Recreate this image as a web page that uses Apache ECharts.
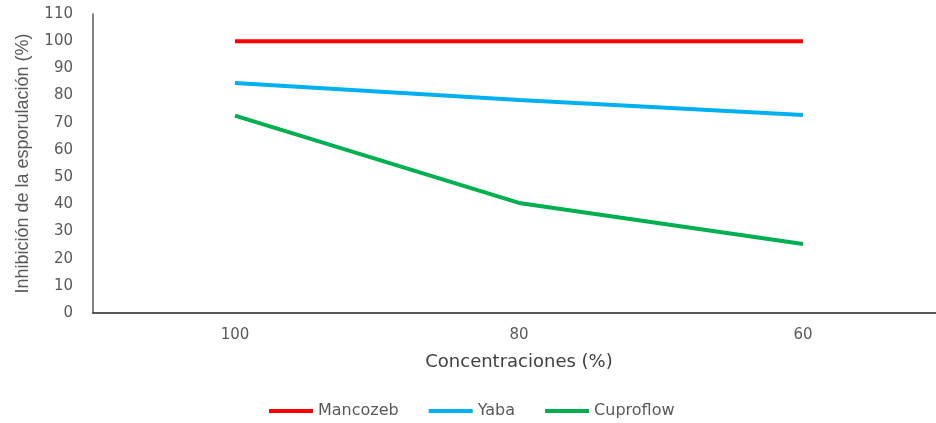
<!DOCTYPE html>
<html>
<head>
<meta charset="utf-8">
<script src="https://cdn.jsdelivr.net/npm/echarts@6/dist/echarts.min.js"></script>
<style>
  html, body { margin: 0; padding: 0; background: #fff; }
  #chart { width: 936px; height: 423px; }
</style>
</head>
<body>
<div id="chart"></div>
<script>
// 数据
const categories = ['100', '80', '60'];
const mancozeb = [100, 100, 100];
const yaba = [84.6, 78.4, 72.8];
const cuproflow = [72.6, 40.5, 25.4];

const chart = echarts.init(document.getElementById('chart'));

const tickFont = 'DejaVu Sans, Verdana, sans-serif';
const nameFont = 'Liberation Sans, Arial, sans-serif';

const option = {
  animation: false,
  backgroundColor: '#ffffff',
  grid: { left: 93, top: 14, width: 852, height: 299, outerBoundsMode: 'none', containLabel: false },
  legend: {
    left: 264,
    top: 398,
    icon: 'rect',
    itemWidth: 44,
    itemHeight: 4,
    itemGap: 30,
    textStyle: { fontFamily: tickFont, fontSize: 16, color: '#595959' },
    data: ['Mancozeb', 'Yaba', 'Cuproflow']
  },
  xAxis: {
    type: 'category',
    data: categories,
    boundaryGap: true,
    name: 'Concentraciones (%)',
    nameLocation: 'middle',
    nameGap: 40,
    nameTextStyle: { fontFamily: tickFont, fontSize: 18, color: '#404040' },
    axisLine: { lineStyle: { color: '#262626', width: 1.5 } },
    axisTick: { show: false },
    axisLabel: { fontFamily: tickFont, fontSize: 15, color: '#595959', margin: 15 },
    splitLine: { show: false }
  },
  yAxis: {
    type: 'value',
    min: 0,
    max: 110,
    interval: 10,
    name: 'Inhibición de la esporulación (%)',
    nameLocation: 'middle',
    nameGap: 61,
    nameTextStyle: { fontFamily: nameFont, fontSize: 18, color: '#595959' },
    axisLine: { show: true, lineStyle: { color: '#595959', width: 1.5 } },
    axisTick: { show: false },
    axisLabel: { fontFamily: tickFont, fontSize: 15, color: '#595959', margin: 20 },
    splitLine: { show: false }
  },
  series: [
    {
      name: 'Mancozeb',
      type: 'line',
      data: mancozeb,
      symbol: 'none',
      color: '#ff0000',
      lineStyle: { width: 4, color: '#ff0000' }
    },
    {
      name: 'Yaba',
      type: 'line',
      data: yaba,
      symbol: 'none',
      color: '#00b0f0',
      lineStyle: { width: 4, color: '#00b0f0' }
    },
    {
      name: 'Cuproflow',
      type: 'line',
      data: cuproflow,
      symbol: 'none',
      color: '#00b050',
      lineStyle: { width: 4, color: '#00b050' }
    }
  ]
};

chart.setOption(option);
</script>
</body>
</html>
